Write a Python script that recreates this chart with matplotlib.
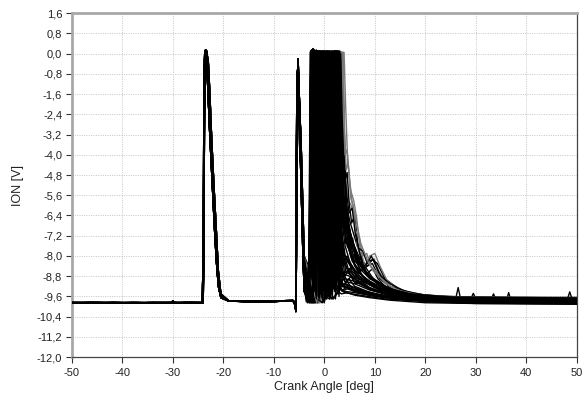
import matplotlib
matplotlib.use("Agg")
import matplotlib.pyplot as plt
from matplotlib.ticker import FixedLocator, FixedFormatter

plt.rcParams['font.family'] = ['Liberation Sans', 'DejaVu Sans']

# ---------------- data ----------------
x_ticks = [-50, -40, -30, -20, -10, 0, 10, 20, 30, 40, 50]
y_ticks = [1.6, 0.8, 0.0, -0.8, -1.6, -2.4, -3.2, -4.0, -4.8, -5.6, -6.4,
           -7.2, -8.0, -8.8, -9.6, -10.4, -11.2, -12.0]
y_tick_labels = ["1,6", "0,8", "0,0", "-0,8", "-1,6", "-2,4", "-3,2", "-4,0",
                 "-4,8", "-5,6", "-6,4", "-7,2", "-8,0", "-8,8", "-9,6",
                 "-10,4", "-11,2", "-12,0"]

# crank angles of the pre-combustion part (first and second charging spikes)
pre_angles = [-50, -46, -42, -38, -34, -30.4, -30.0, -29.6, -27,
              -24.2, -24.0, -23.85, -23.7, -23.5, -23.3, -23.0, -22.7, -22.4,
              -22.1, -21.8, -21.4, -21.0, -20.5, -19, -15, -10,
              -6.2, -5.8, -5.65, -5.55, -5.45, -5.2, -4.9, -4.6, -4.3, -4.0]
pre_ion_a = [-9.85, -9.86, -9.84, -9.85, -9.86, -9.85, -9.78, -9.85, -9.84,
             -9.85, -9.84, -4.0, 0.10, 0.15, -0.4, -1.8, -3.2, -4.4,
             -5.6, -6.8, -8.2, -9.2, -9.65, -9.78, -9.80, -9.80,
             -9.77, -9.90, -10.10, -6.0, -1.5, -0.2, -2.4, -4.6, -6.8, -9.0]
pre_ion_b = [-9.84, -9.85, -9.86, -9.84, -9.85, -9.86, -9.84, -9.85, -9.85,
             -9.84, -8.0, -1.0, 0.05, 0.0, 0.1, -1.0, -2.5, -3.8,
             -5.0, -6.2, -7.8, -9.0, -9.60, -9.79, -9.80, -9.79,
             -9.78, -9.95, -10.20, -8.0, -4.0, -1.0, -3.0, -5.3, -7.6, -9.4]
pre_ion_c = [-9.86, -9.84, -9.85, -9.86, -9.84, -9.85, -9.85, -9.84, -9.86,
             -9.85, -9.85, -7.0, -0.3, 0.10, 0.0, -0.6, -2.0, -3.4,
             -4.6, -5.8, -7.4, -8.8, -9.55, -9.77, -9.79, -9.78,
             -9.76, -9.88, -10.05, -7.0, -2.5, -0.6, -2.0, -4.0, -6.2, -8.4]
pre_ion_d = [-9.85, -9.85, -9.85, -9.85, -9.85, -9.84, -9.84, -9.86, -9.85,
             -9.86, -9.6, -5.5, -0.2, 0.05, -0.2, -1.4, -2.9, -4.0,
             -5.2, -6.5, -8.0, -9.1, -9.60, -9.78, -9.81, -9.80,
             -9.78, -9.92, -10.15, -5.0, -1.0, -0.4, -2.8, -5.0, -7.3, -9.3]
pre_ion_e = [-9.85, -9.84, -9.85, -9.86, -9.85, -9.85, -9.85, -9.85, -9.84,
             -9.85, -9.0, -2.5, 0.0, 0.12, 0.05, -0.3, -1.5, -3.0,
             -4.3, -5.5, -7.0, -8.6, -9.50, -9.77, -9.80, -9.79,
             -9.77, -9.85, -10.00, -8.5, -5.0, -1.4, -2.1, -3.6, -5.8, -8.0]
pre_variants = [pre_ion_a, pre_ion_b, pre_ion_c, pre_ion_d, pre_ion_e]

# combustion part of every recorded cycle: (crank angle [deg], ION [V])
cycles = [
    [(-4,-9.8),(-2.9,-9.8),(-2.7,0.1),(-1.0,0.05),(-0.8,-6.0),(-0.5,0.1),(2.9,0.05),(3.3,-3.5),(4.0,-5.6),(5.0,-6.6),(6.5,-7.6),(8,-8.4),(10,-9.0),(13,-9.35),(17,-9.55),(22,-9.65),(30,-9.72),(40,-9.76),(50,-9.78)],
    [(-4,-9.75),(-2.6,-9.8),(-2.4,0.0),(0.2,0.1),(0.5,-7.0),(1.0,-9.2),(1.6,-9.4),(2.0,-5.0),(2.3,0.05),(3.1,0.0),(3.6,-5.5),(4.5,-7.2),(6,-8.3),(8,-8.9),(11,-9.3),(15,-9.55),(20,-9.68),(30,-9.78),(40,-9.82),(50,-9.84)],
    [(-4,-9.8),(-2.2,-9.85),(-2.0,-1.0),(-1.8,0.1),(1.5,0.05),(1.9,-6.5),(2.5,-8.8),(3.5,-9.1),(5,-9.2),(7,-9.35),(10,-9.5),(15,-9.65),(22,-9.75),(30,-9.82),(40,-9.85),(50,-9.87)],
    [(-4,-9.8),(-1.6,-9.85),(-1.4,0.0),(2.6,0.1),(3.0,-4.0),(3.4,-7.0),(4.2,-8.1),(5.5,-8.4),(7,-8.8),(9,-9.1),(11,-9.3),(15,-9.55),(20,-9.7),(26,-9.7),(26.5,-9.25),(27,-9.72),(35,-9.78),(50,-9.8)],
    [(-4,-9.8),(-2.8,-9.8),(-2.6,-2.0),(-2.4,0.1),(-0.2,0.05),(0.1,-8.0),(0.6,-9.5),(1.0,-9.0),(1.3,-2.0),(1.6,0.1),(3.4,0.05),(3.8,-4.6),(4.8,-5.8),(5.8,-6.2),(6.5,-7.6),(7.8,-8.4),(9,-8.2),(9.8,-8.1),(10.8,-8.6),(13,-9.3),(18,-9.6),(25,-9.72),(35,-9.78),(50,-9.82)],
    [(-4,-9.8),(-1.2,-9.85),(-1.0,0.1),(1.0,0.1),(1.4,-5.0),(1.9,-8.4),(2.4,-9.0),(3.0,-8.6),(4,-8.9),(6,-9.0),(8,-9.2),(11,-9.45),(16,-9.62),(22,-9.72),(30,-9.8),(40,-9.83),(50,-9.85)],
    [(-4,-9.8),(-2.5,-9.85),(-2.3,0.2),(-1.5,0.05),(-1.2,-4.0),(-0.9,-8.5),(-0.5,-9.3),(-0.2,-5.0),(0.1,0.0),(2.2,0.1),(2.6,-5.0),(3.2,-8.0),(4.5,-8.5),(6,-8.8),(8,-9.05),(10,-9.25),(14,-9.5),(20,-9.68),(30,-9.78),(36,-9.8),(36.5,-9.45),(37,-9.8),(50,-9.84)],
    [(-4,-9.8),(-0.5,-9.85),(-0.3,-3.0),(-0.1,0.1),(3.6,0.0),(4.0,-5.0),(4.6,-6.6),(5.5,-7.4),(7,-8.1),(8.5,-8.4),(9.5,-8.15),(10.5,-8.3),(12,-8.9),(15,-9.35),(20,-9.58),(28,-9.7),(38,-9.76),(50,-9.8)],
    [(-4,-9.8),(-2.0,-9.85),(-1.8,0.1),(-0.6,0.05),(-0.3,-7.5),(0.2,-9.5),(0.8,-9.6),(1.2,-6.0),(1.5,-0.5),(2.0,0.05),(2.4,-6.0),(3.0,-8.7),(4,-9.0),(6,-9.1),(9,-9.35),(13,-9.55),(20,-9.7),(30,-9.8),(40,-9.84),(50,-9.86)],
    [(-4,-9.8),(-2.7,-9.8),(-2.5,-0.5),(-2.3,0.1),(0.6,0.05),(1.0,-5.5),(1.5,-8.2),(2.2,-8.9),(3.0,-7.5),(3.4,-3.0),(3.7,-4.8),(4.3,-7.3),(5.5,-8.2),(7.5,-8.8),(10,-9.2),(14,-9.5),(20,-9.66),(30,-9.76),(48,-9.8),(48.6,-9.42),(49.2,-9.8),(50,-9.8)],
    [(-4,-9.8),(-1.9,-9.85),(-1.7,-0.3),(-1.5,0.1),(3.2,0.05),(3.5,-3.0),(3.9,-5.3),(4.6,-6.8),(5.8,-7.8),(7.2,-8.4),(9,-8.8),(12,-9.2),(16,-9.5),(22,-9.65),(30,-9.72),(42,-9.76),(50,-9.78)],
    [(-4,-9.8),(-3.0,-9.85),(-2.8,0.05),(-2.2,0.1),(-1.9,-6.0),(-1.5,-9.3),(-1.0,-9.6),(-0.5,-9.4),(-0.2,-6.0),(0.1,0.0),(1.2,0.1),(1.5,-6.8),(2.0,-9.0),(2.8,-9.3),(4,-9.4),(6,-9.45),(10,-9.6),(15,-9.72),(22,-9.82),(30,-9.88),(50,-9.9)],
    [(-4,-9.8),(-1.4,-9.85),(-1.2,-1.0),(-1.0,0.1),(0.3,0.05),(0.6,-4.5),(0.9,-8.0),(1.3,-8.6),(1.6,-4.0),(1.9,0.0),(2.8,0.1),(3.1,-6.3),(3.8,-7.9),(5,-8.3),(6.5,-8.7),(8.5,-8.4),(9.5,-8.3),(11,-8.9),(14,-9.4),(20,-9.62),(28,-9.72),(40,-9.78),(50,-9.8)],
    [(-4,-9.8),(-2.4,-9.85),(-2.2,0.1),(2.0,0.05),(2.3,-5.0),(2.8,-8.0),(3.5,-8.7),(5,-8.8),(7,-9.0),(9,-9.25),(12,-9.45),(17,-9.6),(25,-9.7),(33,-9.74),(33.5,-9.5),(34,-9.74),(50,-9.78)],
    [(-4,-9.8),(0.0,-9.85),(0.2,-2.0),(0.4,0.1),(1.8,0.05),(2.1,-4.0),(2.4,-8.0),(2.8,-9.1),(3.2,-6.5),(3.6,-0.5),(4.0,-3.5),(4.4,-6.0),(5.2,-7.2),(6.4,-8.0),(8,-8.6),(10,-9.0),(13,-9.35),(18,-9.55),(25,-9.68),(35,-9.74),(50,-9.78)],
    [(-4,-9.8),(-2.6,-9.85),(-2.4,0.1),(-0.8,0.05),(-0.5,-5.0),(-0.2,-8.8),(0.3,-9.6),(1.0,-9.7),(1.5,-9.4),(1.8,-5.0),(2.1,0.05),(2.6,0.0),(2.9,-5.5),(3.4,-8.5),(4.2,-9.1),(6,-9.25),(9,-9.45),(13,-9.6),(20,-9.75),(30,-9.85),(50,-9.88)],
    [(-4,-9.8),(-1.0,-9.85),(-0.8,0.0),(3.9,0.05),(4.2,-2.0),(4.6,-4.2),(5.2,-5.4),(5.8,-5.8),(6.4,-6.5),(7,-7.6),(8,-8.4),(9,-8.0),(10,-7.9),(11,-8.4),(12.5,-9.0),(15,-9.35),(20,-9.55),(26,-9.66),(35,-9.72),(50,-9.76)],
    [(-4,-9.8),(-2.1,-9.85),(-1.9,0.1),(0.9,0.1),(1.2,-3.0),(1.5,-7.5),(2.0,-9.2),(2.8,-9.5),(3.4,-9.0),(4,-9.2),(6,-9.35),(9,-9.5),(14,-9.66),(20,-9.75),(30,-9.84),(50,-9.88)],
    [(-4,-9.8),(-2.9,-9.8),(-2.7,-1.0),(-2.5,0.0),(-1.3,0.1),(-1.0,-8.0),(-0.6,-9.7),(0.0,-9.75),(0.4,-7.0),(0.7,0.05),(3.0,0.1),(3.3,-5.0),(3.8,-6.8),(4.5,-7.6),(6,-8.2),(7.5,-8.5),(8.8,-8.2),(9.8,-8.15),(10.8,-8.7),(13,-9.2),(18,-9.5),(25,-9.65),(35,-9.72),(50,-9.76)],
    [(-4,-9.8),(-1.7,-9.85),(-1.5,-0.5),(-1.3,0.1),(2.4,0.05),(2.7,-4.5),(3.1,-7.6),(3.6,-8.4),(4.5,-8.2),(5.5,-8.5),(7,-8.7),(9,-9.0),(12,-9.3),(16,-9.52),(22,-9.65),(29,-9.7),(29.5,-9.48),(30,-9.7),(50,-9.78)],
    [(-4,-9.8),(-2.3,-9.85),(-2.1,0.0),(-0.1,0.1),(0.2,-4.0),(0.5,-8.5),(1.0,-9.6),(1.8,-9.7),(2.5,-9.5),(3,-9.3),(4,-9.45),(7,-9.55),(12,-9.7),(20,-9.8),(30,-9.86),(50,-9.9)],
    [(-4,-9.8),(-0.7,-9.85),(-0.5,0.1),(1.4,0.05),(1.7,-7.0),(2.1,-9.2),(2.6,-8.6),(2.9,-3.0),(3.2,0.05),(3.5,-3.6),(3.9,-6.0),(4.6,-7.2),(5.8,-8.0),(7.2,-8.5),(9,-8.8),(11,-9.1),(14,-9.4),(20,-9.6),(30,-9.7),(40,-9.75),(50,-9.78)],
    [(-4,-9.8),(-2.8,-9.85),(-2.6,0.1),(-2.0,0.0),(-1.7,-7.0),(-1.3,-9.5),(-0.8,-8.5),(-0.5,-2.0),(-0.3,0.1),(1.7,0.05),(2.0,-6.0),(2.5,-8.7),(3.3,-9.2),(5,-9.3),(8,-9.45),(12,-9.6),(18,-9.72),(27,-9.8),(40,-9.85),(50,-9.87)],
    [(-4,-9.8),(-1.3,-9.85),(-1.1,0.1),(3.3,0.05),(3.6,-4.0),(4.0,-6.4),(4.8,-7.6),(6,-8.4),(7.5,-8.8),(9.5,-9.1),(12,-9.35),(16,-9.55),(22,-9.66),(30,-9.72),(50,-9.78)],
    [(-4,-9.8),(-3.6,-9.6),(-3.2,-9.75),(-2.9,-9.8),(-2.75,-3.0),(-2.6,0.1),(-2.2,0.2),(-1.9,0.0),(-1.6,0.15),(-1.3,-2.5),(-1.1,0.1),(0.5,0.0),(0.8,-3.5),(1.1,0.1),(2.0,0.05),(2.3,-6.0),(2.7,-8.9),(3.2,-9.3),(3.8,-8.7),(4.5,-9.0),(5.3,-8.8),(6.2,-9.1),(7.5,-9.0),(9,-9.3),(11,-9.4),(14,-9.58),(18,-9.66),(24,-9.7),(32,-9.68),(42,-9.7),(50,-9.68)],
    [(-4,-9.8),(-3.0,-9.7),(-2.5,-9.8),(-2.2,-8.0),(-1.9,-2.0),(-1.7,0.1),(-0.4,0.0),(-0.1,-5.0),(0.2,-9.0),(0.5,-9.7),(0.9,-8.0),(1.2,-3.0),(1.4,0.05),(2.5,0.1),(2.8,-4.0),(3.1,-2.0),(3.4,-6.0),(3.9,-7.0),(4.4,-6.6),(5.0,-7.6),(5.6,-7.3),(6.3,-8.2),(7.2,-8.0),(8.2,-8.7),(9.5,-8.9),(11,-9.2),(13,-9.3),(16,-9.5),(20,-9.6),(27,-9.65),(35,-9.66),(45,-9.67),(50,-9.66)],
    [(-4,-9.8),(-3.3,-9.85),(-3.0,-9.4),(-2.8,-9.8),(-2.5,-9.8),(-2.3,-5.0),(-2.1,0.05),(-1.0,0.1),(-0.7,-3.0),(-0.5,0.0),(1.2,0.05),(1.5,-2.0),(1.7,0.1),(3.1,0.0),(3.4,-2.5),(3.7,-4.2),(4.1,-5.0),(4.5,-4.7),(4.9,-5.9),(5.4,-6.7),(6.0,-6.4),(6.6,-7.5),(7.4,-8.3),(8.4,-8.7),(9.6,-8.5),(10.6,-8.9),(12,-9.2),(15,-9.45),(19,-9.6),(25,-9.65),(33,-9.7),(50,-9.72)],
    [(-4,-9.8),(-1.0,-9.85),(-0.7,-9.3),(-0.5,-9.8),(-0.2,-9.75),(0.0,-6.0),(0.2,0.1),(3.7,0.05),(4.0,-3.0),(4.3,-4.6),(4.7,-4.3),(5.2,-5.7),(5.7,-6.0),(6.2,-7.0),(6.9,-7.3),(7.6,-8.0),(8.4,-7.9),(9.2,-8.4),(10.2,-8.6),(11.5,-8.9),(13,-9.2),(16,-9.45),(20,-9.58),(26,-9.62),(34,-9.64),(50,-9.66)],
    [(-4,-9.8),(-2.75,-9.85),(-2.6,-4.0),(-2.45,0.1),(-1.1,0.05),(-0.85,-7.0),(-0.6,-9.6),(-0.3,-9.7),(0.0,-9.8),(0.3,-9.6),(0.6,-8.0),(0.9,-9.3),(1.3,-9.7),(2.0,-9.6),(2.6,-9.4),(3.4,-9.5),(4.5,-9.45),(6,-9.55),(9,-9.65),(13,-9.75),(20,-9.85),(30,-9.88),(50,-9.9)],
    [(-4,-9.8),(-2.1,-9.85),(-1.9,-6.5),(-1.7,-1.0),(-1.5,0.1),(-0.2,0.1),(0.1,-2.0),(0.3,0.0),(2.7,0.05),(3.0,-5.5),(3.3,-6.8),(3.7,-6.1),(4.2,-7.5),(4.8,-7.2),(5.4,-8.1),(6.2,-7.9),(7.0,-8.6),(8.0,-8.5),(9.0,-8.9),(10.5,-9.0),(12,-9.3),(15,-9.5),(19,-9.62),(25,-9.7),(35,-9.75),(50,-9.78)],
    [(-4,-9.8),(-3.6,-9.8),(-3.3,-9.5),(-3.0,-9.8),(-2.9,-9.85),(-2.8,-6.0),(-2.65,0.0),(-1.8,0.1),(-1.5,-5.0),(-1.2,-9.0),(-0.8,-9.5),(-0.4,-7.5),(-0.1,-2.0),(0.1,0.1),(0.9,0.05),(1.2,-6.5),(1.6,-9.0),(2.2,-9.4),(2.9,-9.2),(3.6,-9.35),(4.6,-9.2),(5.8,-9.4),(8,-9.5),(12,-9.65),(18,-9.75),(26,-9.82),(38,-9.86),(50,-9.88)],
    [(-4,-9.8),(-0.3,-9.85),(-0.1,-4.0),(0.1,0.1),(0.9,0.0),(1.2,-2.5),(1.4,0.1),(2.9,0.05),(3.2,-3.8),(3.5,-1.5),(3.8,-4.8),(4.3,-5.4),(4.9,-6.3),(5.5,-6.1),(6.1,-7.1),(6.8,-7.7),(7.6,-7.8),(8.5,-8.3),(9.3,-8.0),(10.2,-8.4),(11.2,-8.8),(13,-9.1),(16,-9.4),(20,-9.55),(27,-9.62),(37,-9.64),(50,-9.64)],
    [(-4,-9.8),(-1.8,-9.85),(-1.6,-3.0),(-1.4,0.1),(-0.3,0.05),(0.0,-8.0),(0.4,-9.6),(0.8,-9.2),(1.1,-4.0),(1.3,0.0),(2.3,0.1),(2.6,-4.5),(2.9,-7.6),(3.3,-8.5),(3.9,-8.1),(4.6,-8.6),(5.5,-8.4),(6.5,-8.9),(8,-9.0),(10,-9.25),(13,-9.45),(17,-9.6),(23,-9.68),(32,-9.72),(50,-9.74)],
    [(-4,-9.8),(-2.5,-9.85),(-2.35,-1.0),(-2.2,0.1),(-1.2,0.1),(-0.9,-3.5),(-0.7,0.05),(0.8,0.0),(1.1,-5.0),(1.4,-8.5),(1.8,-9.3),(2.2,-9.0),(2.6,-7.0),(3.0,-8.8),(3.6,-9.2),(4.5,-9.0),(5.5,-9.3),(7,-9.35),(9,-9.5),(12,-9.62),(17,-9.72),(24,-9.8),(34,-9.84),(50,-9.86)],
    [(-4,-9.8),(-1.5,-9.85),(-1.3,-5.0),(-1.15,0.1),(1.7,0.1),(2.0,-3.5),(2.2,0.0),(3.5,0.05),(3.8,-2.5),(4.1,-4.0),(4.5,-3.8),(5.0,-5.0),(5.5,-5.9),(6.0,-6.3),(6.6,-6.9),(7.2,-7.5),(8.0,-7.9),(8.8,-8.3),(9.7,-8.6),(10.8,-8.8),(12.2,-9.1),(14.5,-9.35),(18,-9.52),(24,-9.6),(32,-9.63),(50,-9.65)],
    [(-4,-9.8),(-2.3,-9.85),(-2.15,-7.0),(-2.0,0.05),(-0.9,0.1),(-0.6,-6.5),(-0.3,-9.4),(0.0,-9.0),(0.3,-4.5),(0.5,0.1),(1.9,0.0),(2.2,-5.2),(2.5,-8.3),(2.9,-8.9),(3.4,-8.4),(4.0,-8.8),(4.8,-8.6),(5.8,-9.0),(7,-9.1),(9,-9.3),(12,-9.5),(16,-9.63),(22,-9.72),(30,-9.78),(50,-9.82)],
    # strongly fluctuating (saturated) cycles
    [(-4,-9.8),(-3.5,-9.3),(-3.1,-8.2),(-2.85,-2.0),(-2.7,0.1),(-2.3,-6.0),(-2.0,0.05),(-1.6,-8.5),(-1.3,0.1),(-0.9,-4.0),(-0.6,0.0),(-0.2,-9.0),(0.2,0.1),(0.6,-7.0),(1.0,0.05),(1.5,-9.3),(1.9,0.1),(2.3,-5.5),(2.7,0.0),(3.1,-8.8),(3.5,-7.5),(4.2,-8.6),(5.5,-8.8),(7,-9.1),(10,-9.4),(15,-9.6),(22,-9.7),(35,-9.74),(50,-9.76)],
    [(-4,-9.8),(-3.4,-9.6),(-3.0,-9.0),(-2.8,-5.0),(-2.6,0.05),(-2.2,-9.2),(-1.8,0.1),(-1.4,-3.0),(-1.0,0.0),(-0.7,-9.5),(-0.3,0.1),(0.1,-5.5),(0.5,0.1),(0.9,-9.6),(1.3,0.0),(1.7,-6.5),(2.1,0.1),(2.5,-9.0),(2.9,0.05),(3.3,-6.0),(3.7,-8.3),(4.5,-8.0),(5.5,-8.6),(7,-8.9),(9.5,-9.2),(14,-9.5),(20,-9.64),(30,-9.7),(50,-9.74)],
    [(-4,-9.8),(-3.3,-9.8),(-3.0,-9.3),(-2.9,-8.0),(-2.75,-1.0),(-2.55,0.1),(-2.1,-4.5),(-1.7,0.05),(-1.2,-9.4),(-0.8,0.1),(-0.4,-7.5),(0.0,0.0),(0.4,-9.7),(0.8,0.1),(1.2,-8.0),(1.6,0.05),(2.0,-9.4),(2.4,0.1),(2.8,-3.0),(3.2,-0.2),(3.5,-5.0),(3.9,-6.4),(4.6,-7.0),(5.6,-7.9),(7,-8.5),(9,-8.9),(12,-9.25),(17,-9.5),(25,-9.62),(50,-9.66)],
    [(-4,-9.8),(-3.2,-9.7),(-2.95,-9.0),(-2.8,-3.5),(-2.65,0.1),(-2.4,-8.8),(-2.1,0.0),(-1.7,-6.0),(-1.4,0.1),(-1.1,-9.6),(-0.8,0.05),(-0.5,-4.5),(-0.2,0.1),(0.3,-8.5),(0.7,0.0),(1.1,-9.2),(1.5,0.1),(1.9,-4.0),(2.3,0.05),(2.7,-9.5),(3.0,-2.0),(3.4,-7.8),(4.0,-8.7),(5,-8.5),(6.5,-9.0),(9,-9.3),(13,-9.55),(20,-9.7),(32,-9.78),(50,-9.8)],
    [(-4,-9.8),(-3.6,-9.7),(-3.2,-9.1),(-2.9,-6.5),(-2.7,0.0),(-2.45,-3.0),(-2.2,0.1),(-1.9,-9.4),(-1.5,0.05),(-1.2,-7.0),(-0.9,0.1),(-0.5,-9.3),(-0.1,0.0),(0.3,-6.0),(0.6,0.1),(1.0,-9.7),(1.4,0.05),(1.8,-8.0),(2.2,0.1),(2.6,-6.5),(3.0,0.0),(3.3,-8.9),(3.8,-9.2),(4.8,-8.9),(6,-9.2),(8.5,-9.4),(12,-9.6),(18,-9.72),(28,-9.8),(50,-9.84)],
    [(-4,-9.8),(-3.0,-9.85),(-2.8,-8.5),(-2.6,-0.5),(-2.4,0.1),(-2.0,-7.5),(-1.6,0.0),(-1.2,-5.0),(-0.9,0.1),(-0.5,-9.0),(-0.2,0.05),(0.2,-3.5),(0.5,0.1),(0.9,-8.8),(1.2,0.0),(1.6,-9.6),(2.0,0.1),(2.4,-7.2),(2.8,0.05),(3.2,-4.0),(3.6,-5.2),(4.2,-6.2),(5.0,-7.0),(6.0,-7.7),(7.5,-8.5),(9.5,-8.9),(12.5,-9.3),(17,-9.55),(24,-9.65),(50,-9.7)],
    [(-4,-9.8),(-3.4,-9.85),(-3.1,-9.5),(-2.85,-7.0),(-2.7,-0.3),(-2.5,0.15),(-2.2,-9.5),(-1.9,0.1),(-1.5,-8.0),(-1.1,0.05),(-0.7,-6.5),(-0.4,0.1),(0.0,-9.7),(0.4,0.0),(0.8,-5.0),(1.1,0.1),(1.5,-9.0),(1.9,0.05),(2.3,-8.3),(2.7,0.1),(3.1,-9.2),(3.5,-9.4),(4.5,-9.3),(6,-9.4),(9,-9.55),(14,-9.68),(22,-9.78),(35,-9.84),(50,-9.86)],
    [(-4,-9.8),(-3.5,-9.5),(-3.1,-8.8),(-2.9,-5.5),(-2.75,0.1),(-2.5,-5.5),(-2.25,0.05),(-1.9,-9.0),(-1.55,0.1),(-1.2,-9.6),(-0.85,0.0),(-0.45,-8.0),(-0.1,0.1),(0.35,-9.4),(0.75,0.05),(1.15,-3.0),(1.45,0.1),(1.85,-9.0),(2.25,0.0),(2.65,-5.8),(3.05,0.1),(3.4,-4.4),(3.8,-5.6),(4.4,-6.5),(5.3,-7.2),(6.5,-8.0),(8,-8.6),(10,-8.95),(13,-9.3),(18,-9.55),(26,-9.66),(50,-9.7)],
    [(-4,-9.8),(-3.3,-9.6),(-3.0,-8.6),(-2.8,-4.0),(-2.6,0.1),(-2.35,-9.7),(-2.05,0.05),(-1.75,-7.2),(-1.45,0.1),(-1.05,-8.8),(-0.75,0.0),(-0.35,-9.7),(0.05,0.1),(0.45,-4.0),(0.85,0.05),(1.25,-9.5),(1.65,0.1),(2.05,-7.0),(2.45,0.0),(2.85,-9.3),(3.25,-1.0),(3.6,-6.8),(4.1,-7.6),(5,-8.2),(6.2,-8.7),(8,-9.0),(11,-9.35),(16,-9.58),(24,-9.68),(50,-9.72)],
    [(-4,-9.8),(-3.5,-9.75),(-3.2,-9.4),(-2.95,-7.5),(-2.8,-1.5),(-2.6,0.05),(-2.3,-7.8),(-2.0,0.1),(-1.6,-9.7),(-1.2,0.05),(-0.85,-8.4),(-0.5,0.1),(-0.1,-6.0),(0.3,0.0),(0.7,-9.4),(1.05,0.1),(1.4,-7.5),(1.8,0.05),(2.2,-9.7),(2.6,0.1),(3.0,-7.0),(3.35,-3.0),(3.7,-6.2),(4.3,-7.3),(5.2,-8.0),(6.6,-8.6),(8.5,-8.95),(11,-9.3),(16,-9.55),(24,-9.66),(50,-9.7)],
    [(-4,-9.8),(-3.1,-9.8),(-2.9,-8.8),(-2.72,-2.5),(-2.55,0.15),(-2.25,-5.0),(-1.95,0.0),(-1.55,-9.6),(-1.15,0.1),(-0.75,-9.5),(-0.4,0.05),(0.0,-8.5),(0.35,0.1),(0.75,-6.0),(1.1,0.0),(1.55,-9.7),(1.95,0.1),(2.35,-9.3),(2.75,0.05),(3.15,-6.0),(3.5,-7.5),(4.0,-8.0),(5,-8.7),(6.5,-9.0),(9,-9.3),(13,-9.52),(20,-9.68),(30,-9.76),(50,-9.8)],
    [(-4,-9.8),(-3.7,-9.6),(-3.3,-9.2),(-3.0,-8.0),(-2.8,-3.0),(-2.65,0.0),(-2.35,-8.0),(-2.0,0.1),(-1.65,-6.5),(-1.3,0.05),(-0.95,-9.7),(-0.6,0.1),(-0.25,-9.0),(0.15,0.05),(0.55,-8.0),(0.95,0.1),(1.35,-5.5),(1.7,0.0),(2.1,-8.6),(2.5,0.1),(2.9,-9.6),(3.3,-4.8),(3.7,-5.8),(4.4,-6.8),(5.4,-7.6),(6.8,-8.3),(8.8,-8.8),(11.5,-9.2),(16,-9.5),(24,-9.64),(50,-9.68)],
]
# a few cycles drawn lighter (grey) in the original
grey_cycles = [4, 16, 21, 27, 34]

# ---------------- figure ----------------
fig = plt.figure(figsize=(5.85, 3.99), dpi=100)
ax = fig.add_axes([0.123, 0.105, 0.863, 0.862])

for i, cyc in enumerate(cycles):
    pre = pre_variants[i % len(pre_variants)]
    xs = list(pre_angles) + [p[0] for p in cyc[1:]]
    ys = list(pre) + [p[1] for p in cyc[1:]]
    col = '#7a7a7a' if i in grey_cycles else 'black'
    ax.plot(xs, ys, color=col, lw=1.0, zorder=3)

ax.set_xlim(-50, 50)
ax.set_ylim(-12.0, 1.6)
ax.xaxis.set_major_locator(FixedLocator(x_ticks))
ax.xaxis.set_major_formatter(FixedFormatter([str(v) for v in x_ticks]))
ax.yaxis.set_major_locator(FixedLocator(y_ticks))
ax.yaxis.set_major_formatter(FixedFormatter(y_tick_labels))

ax.grid(True, color='#bcbcbc', linestyle=(0, (1.2, 1.6)), linewidth=0.6, zorder=0)
ax.tick_params(axis='both', labelsize=8, length=4, width=0.8, color='#333333',
               direction='out', labelcolor='#222222')
ax.tick_params(axis='x', pad=4)
ax.tick_params(axis='y', pad=3)

for side in ['left', 'top']:
    ax.spines[side].set_color('#a8a8a8')
    ax.spines[side].set_linewidth(2.0)
for side in ['right', 'bottom']:
    ax.spines[side].set_color('#444444')
    ax.spines[side].set_linewidth(0.9)

ax.set_xlabel('Crank Angle [deg]', fontsize=9, color='#222222', labelpad=2)
ax.set_ylabel('ION [V]', fontsize=9, color='#222222', labelpad=9)

fig.savefig('out.png', dpi=100)
